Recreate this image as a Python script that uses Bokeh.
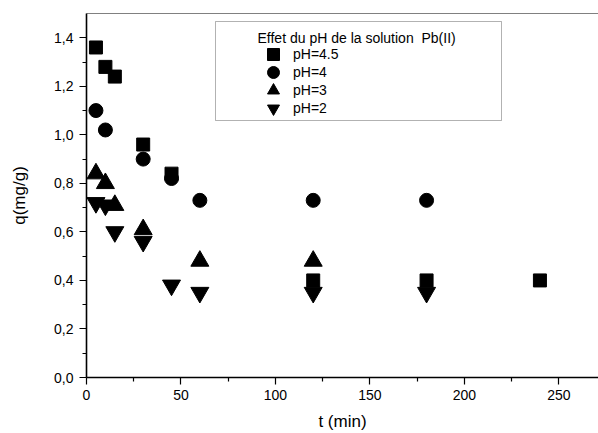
from bokeh.plotting import figure
from bokeh.models import (Range1d, FixedTicker, LinearAxis, Legend, LegendItem,
                          BoxAnnotation, Label)
from bokeh.embed import file_html
from bokeh.resources import INLINE

# Adsorption kinetics of Pb(II) at several solution pH values
t_ph45 = [5, 10, 15, 30, 45, 120, 180, 240]
q_ph45 = [1.36, 1.28, 1.24, 0.96, 0.84, 0.40, 0.40, 0.40]

t_ph4 = [5, 10, 30, 45, 60, 120, 180]
q_ph4 = [1.10, 1.02, 0.90, 0.82, 0.73, 0.73, 0.73]

t_ph3 = [5, 10, 15, 30, 60, 120]
q_ph3 = [0.84, 0.80, 0.71, 0.61, 0.48, 0.48]

t_ph2 = [5, 10, 15, 30, 45, 60, 120, 180]
q_ph2 = [0.72, 0.71, 0.60, 0.56, 0.38, 0.35, 0.35, 0.35]

x_ticks = [0, 50, 100, 150, 200, 250]
x_minor = [25, 75, 125, 175, 225]
y_ticks = [0.0, 0.2, 0.4, 0.6, 0.8, 1.0, 1.2, 1.4]
y_minor = [0.1, 0.3, 0.5, 0.7, 0.9, 1.1, 1.3]
y_tick_labels = ["0,0", "0,2", "0,4", "0,6", "0,8", "1,0", "1,2", "1,4"]

# non-breaking space keeps the double gap before "Pb(II)"
legend_title = "Effet du pH de la solution\u00a0 Pb(II)"
series_labels = ["pH=4.5", "pH=4", "pH=3", "pH=2"]

FONT = "Liberation Sans"

p = figure(width=598, height=433, output_backend="svg", toolbar_location=None,
           x_range=Range1d(0, 271), y_range=Range1d(0, 1.5),
           min_border_left=86, min_border_right=0, min_border_top=13,
           min_border_bottom=54)
p.outline_line_color = None
p.xgrid.visible = False
p.ygrid.visible = False
p.background_fill_color = "white"
p.border_fill_color = "white"

# bottom / left axes
for ax in (p.xaxis[0], p.yaxis[0]):
    ax.axis_line_width = 1.6
    ax.axis_line_color = "black"
    ax.major_tick_line_color = "black"
    ax.minor_tick_line_color = "black"
    ax.major_tick_line_width = 1.2
    ax.minor_tick_line_width = 1.2
    ax.major_tick_out = 7
    ax.major_tick_in = 0
    ax.minor_tick_out = 4
    ax.minor_tick_in = 0
    ax.major_label_text_font = FONT
    ax.major_label_text_font_size = "14px"
    ax.major_label_text_color = "black"
    ax.axis_label_text_font = FONT
    ax.axis_label_text_font_size = "17px"
    ax.axis_label_text_font_style = "normal"
    ax.axis_label_text_color = "black"

p.xaxis.ticker = FixedTicker(ticks=x_ticks, minor_ticks=x_minor)
p.yaxis.ticker = FixedTicker(ticks=y_ticks, minor_ticks=y_minor)
p.yaxis.major_label_overrides = {v: s for v, s in zip(y_ticks, y_tick_labels)}
p.xaxis.axis_label = "t (min)"
p.yaxis.axis_label = "q(mg/g)"
p.xaxis.major_label_standoff = 5
p.yaxis.major_label_standoff = 6
p.xaxis.axis_label_standoff = 9
p.yaxis.axis_label_standoff = 22

# thin grey frame line along the top
top_axis = LinearAxis(axis_line_color="#808080", axis_line_width=1,
                      major_tick_line_color=None, minor_tick_line_color=None,
                      major_label_text_font_size="0px",
                      ticker=FixedTicker(ticks=[]))
p.add_layout(top_axis, "above")

r45 = p.scatter(t_ph45, q_ph45, marker="square", size=13, color="black")
r4 = p.scatter(t_ph4, q_ph4, marker="circle", size=14, color="black")
r3 = p.scatter(t_ph3, q_ph3, marker="triangle", size=18, color="black")
r2 = p.scatter(t_ph2, q_ph2, marker="inverted_triangle", size=18, color="black")

# legend frame (screen units, measured from the frame's bottom-left)
box = BoxAnnotation(left=129, right=415, top=356, bottom=257,
                    left_units="screen", right_units="screen",
                    top_units="screen", bottom_units="screen",
                    fill_color="white", fill_alpha=1.0,
                    line_color="black", line_width=1)
p.add_layout(box)

p.add_layout(Label(x=171, y=340, x_units="screen", y_units="screen",
                   text=legend_title, text_font=FONT, text_font_size="14px",
                   text_color="black", text_baseline="middle"))

# one single-row legend per series, stacked closely
row_bottoms = [308, 290, 272, 254]
for lbl, r, yb in zip(series_labels, [r45, r4, r3, r2], row_bottoms):
    lg = Legend(items=[LegendItem(label=lbl, renderers=[r])],
                label_text_font=FONT, label_text_font_size="14px",
                label_text_color="black",
                glyph_width=30, glyph_height=30, label_height=30,
                label_standoff=5, padding=0, margin=0, spacing=0,
                border_line_color=None, background_fill_alpha=0,
                location=(172, yb))
    p.add_layout(lg, "center")

open("out.html", "w").write(file_html(p, INLINE))
